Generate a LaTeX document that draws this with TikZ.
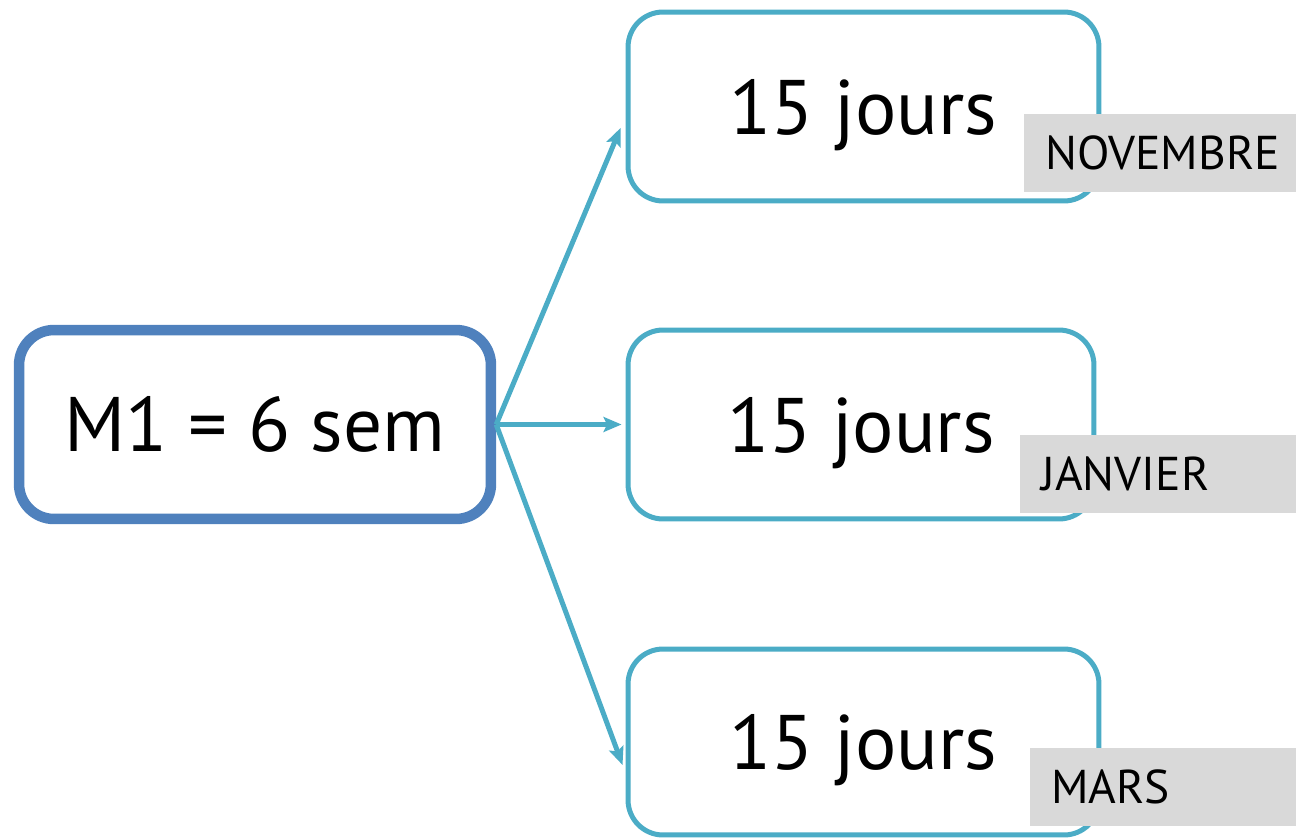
\documentclass[tikz,border=0pt]{standalone}
\usepackage{fontspec}
\setmainfont{PT Sans}
\usetikzlibrary{shapes,arrows.meta}
\definecolor{mainblue}{HTML}{4F81BD}
\definecolor{lightblue}{HTML}{4BACC6}
\definecolor{labelgrey}{HTML}{D9D9D9}

\begin{document}
\begin{tikzpicture}[x=0.02cm,y=-0.02cm,
  bigbox/.style={draw=mainblue,line width=0.21cm,rounded corners=0.7cm,fill=white,
    minimum width=9.44cm,minimum height=3.78cm,font=\fontsize{44}{48}\selectfont},
  dayebox/.style={draw=lightblue,line width=0.1cm,rounded corners=0.7cm,fill=white,
    minimum height=3.78cm,text depth=0pt,font=\fontsize{44}{48}\selectfont},
  monthtag/.style={fill=labelgrey,anchor=north west,minimum height=1.56cm,inner xsep=0.42cm,
    align=left,font=\fontsize{27}{30}\selectfont},
  link/.style={lightblue,line width=0.1cm,-{Stealth[length=0.36cm,width=0.3cm,inset=0.07cm]}}]
\useasboundingbox (0,0) rectangle (1296,839);
% M1
\node[bigbox] (m1) at (255,424.5) {M1 = 6 sem};
% Stages
\node[dayebox,minimum width=9.42cm] (nov) at (863.5,106.5) {15 jours};
\node[dayebox,minimum width=9.32cm] (jan) at (861,424.5) {15 jours};
\node[dayebox,minimum width=9.42cm,minimum height=3.72cm] (mar) at (863.5,742) {15 jours};
% Months
\node[monthtag,text width=4.6cm] (novtag) at (1024,114) {NOVEMBRE};
\node[monthtag,text width=4.68cm] (jantag) at (1020,435) {JANVIER};
\node[monthtag,text width=4.48cm] (martag) at (1030,748) {MARS};
% Connect M1 to the stages
\draw[link] (m1.east) -- ([shift={(-0.1cm,-0.43cm)}]nov.west);
\draw[link] (m1.east) -- ([xshift=-0.08cm]jan.west);
\draw[link] (m1.east) -- ([shift={(-0.06cm,-0.46cm)}]mar.west);
\end{tikzpicture}
\end{document}
